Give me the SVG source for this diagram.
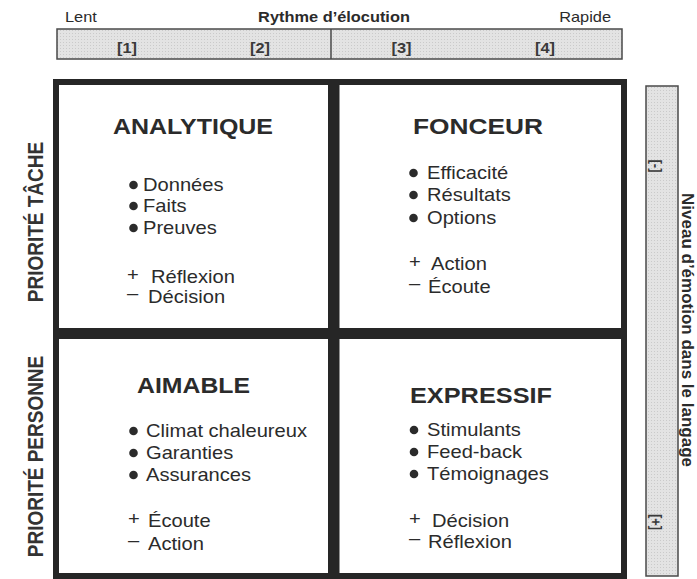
<svg xmlns="http://www.w3.org/2000/svg" width="697" height="579" viewBox="0 0 697 579">
<defs>
<pattern id="dots" width="3" height="3" patternUnits="userSpaceOnUse">
<rect width="3" height="3" fill="#e3e3e3"/>
<rect width="1" height="1" fill="#cacaca"/>
</pattern>
<style>
.t{font-family:"Liberation Sans",Arial,sans-serif;fill:#2b2b2b}
.b{font-size:17.5px}
.h{font-size:21.5px;font-weight:bold}
.ax{font-size:14px}
.axb{font-size:14px;font-weight:bold}
.num{font-size:14px;font-weight:bold;fill:#3a3a3a}
.side{font-size:19px;font-weight:bold;fill:#333}
.bar{fill:url(#dots);stroke:#4a4a4a;stroke-width:1.5}
.frame{fill:#fff;stroke:#262626;stroke-width:6}
.div{fill:#262626}
.dot{fill:#2b2b2b}
</style>
</defs>
<rect width="697" height="579" fill="#fff"/>

<g id="axis-top">
<text class="t ax" transform="translate(65,22) scale(1.17,1)">Lent</text>
<text class="t axb" text-anchor="middle" transform="translate(334,22) scale(1.17,1)">Rythme d’élocution</text>
<text class="t ax" text-anchor="end" transform="translate(611,22) scale(1.17,1)">Rapide</text>
<rect class="bar" x="57" y="29" width="565" height="30"/>
<line x1="331" y1="29" x2="331" y2="59" stroke="#4a4a4a" stroke-width="1.5"/>
<text class="t num" text-anchor="middle" transform="translate(127,53) scale(1.17,1)">[1]</text>
<text class="t num" text-anchor="middle" transform="translate(260,53) scale(1.17,1)">[2]</text>
<text class="t num" text-anchor="middle" transform="translate(401.5,53) scale(1.17,1)">[3]</text>
<text class="t num" text-anchor="middle" transform="translate(545,53) scale(1.17,1)">[4]</text>
</g>

<g id="axis-left">
<text class="t side" text-anchor="middle" transform="translate(43,222) scale(1.17,1) rotate(-90)">PRIORITÉ TÂCHE</text>
<text class="t side" text-anchor="middle" transform="translate(43,456.5) scale(1.17,1) rotate(-90)">PRIORITÉ PERSONNE</text>
</g>

<g id="axis-right">
<rect class="bar" x="646" y="86" width="32" height="490"/>
<text class="t num" style="font-size:13px" text-anchor="middle" transform="translate(650.5,166) scale(1.17,1) rotate(90)">[-]</text>
<text class="t num" style="font-size:13px" text-anchor="middle" transform="translate(650.5,522) scale(1.17,1) rotate(90)">[+]</text>
<text class="t axb" style="font-size:13.5px" text-anchor="middle" textLength="274" lengthAdjust="spacingAndGlyphs" transform="translate(682,330) scale(1.17,1) rotate(90)">Niveau d’émotion dans le langage</text>
</g>

<g id="matrix">
<rect class="frame" x="56" y="82" width="568" height="494"/>
<rect class="div" x="328" y="82" width="11.5" height="494"/>
<rect class="div" x="56" y="328" width="568" height="11"/>
</g>

<g id="analytique">
<text class="t h" x="113" y="134" textLength="160" lengthAdjust="spacingAndGlyphs">ANALYTIQUE</text>
<circle class="dot" cx="133.5" cy="185" r="4.3"/>
<circle class="dot" cx="133.5" cy="206" r="4.3"/>
<circle class="dot" cx="133.5" cy="228" r="4.3"/>
<text class="t b" transform="translate(143,191) scale(1.15,1)">Données</text>
<text class="t b" transform="translate(143,212) scale(1.15,1)">Faits</text>
<text class="t b" transform="translate(143,234) scale(1.15,1)">Preuves</text>
<text class="t b" transform="translate(127,281) scale(1.15,1)">+</text>
<text class="t b" transform="translate(151,283) scale(1.15,1)">Réflexion</text>
<text class="t b" transform="translate(127,299) scale(1.15,1)">–</text>
<text class="t b" transform="translate(148,303) scale(1.15,1)">Décision</text>
</g>

<g id="fonceur">
<text class="t h" x="413" y="134" textLength="130" lengthAdjust="spacingAndGlyphs">FONCEUR</text>
<circle class="dot" cx="413.5" cy="173" r="4.3"/>
<circle class="dot" cx="413.5" cy="195" r="4.3"/>
<circle class="dot" cx="413.5" cy="218" r="4.3"/>
<text class="t b" transform="translate(427,179) scale(1.15,1)">Efficacité</text>
<text class="t b" transform="translate(427,201) scale(1.15,1)">Résultats</text>
<text class="t b" transform="translate(427,224) scale(1.15,1)">Options</text>
<text class="t b" transform="translate(409,268) scale(1.15,1)">+</text>
<text class="t b" transform="translate(431,270) scale(1.15,1)">Action</text>
<text class="t b" transform="translate(409,289) scale(1.15,1)">–</text>
<text class="t b" transform="translate(428,293) scale(1.15,1)">Écoute</text>
</g>

<g id="aimable">
<text class="t h" x="137" y="393" textLength="113" lengthAdjust="spacingAndGlyphs">AIMABLE</text>
<circle class="dot" cx="133.5" cy="431" r="4.3"/>
<circle class="dot" cx="133.5" cy="453" r="4.3"/>
<circle class="dot" cx="133.5" cy="475" r="4.3"/>
<text class="t b" transform="translate(146,437) scale(1.15,1)">Climat chaleureux</text>
<text class="t b" transform="translate(146,459) scale(1.15,1)">Garanties</text>
<text class="t b" transform="translate(146,481) scale(1.15,1)">Assurances</text>
<text class="t b" transform="translate(128,525) scale(1.15,1)">+</text>
<text class="t b" transform="translate(148,527) scale(1.15,1)">Écoute</text>
<text class="t b" transform="translate(128,546) scale(1.15,1)">–</text>
<text class="t b" transform="translate(148,550) scale(1.15,1)">Action</text>
</g>

<g id="expressif">
<text class="t h" x="410" y="403" textLength="142" lengthAdjust="spacingAndGlyphs">EXPRESSIF</text>
<circle class="dot" cx="414" cy="430" r="4.3"/>
<circle class="dot" cx="414" cy="452" r="4.3"/>
<circle class="dot" cx="414" cy="474" r="4.3"/>
<text class="t b" transform="translate(427,436) scale(1.15,1)">Stimulants</text>
<text class="t b" transform="translate(427,458) scale(1.15,1)">Feed-back</text>
<text class="t b" transform="translate(427,480) scale(1.15,1)">Témoignages</text>
<text class="t b" transform="translate(409,525) scale(1.15,1)">+</text>
<text class="t b" transform="translate(432,527) scale(1.15,1)">Décision</text>
<text class="t b" transform="translate(409,544) scale(1.15,1)">–</text>
<text class="t b" transform="translate(428,548) scale(1.15,1)">Réflexion</text>
</g>
</svg>
